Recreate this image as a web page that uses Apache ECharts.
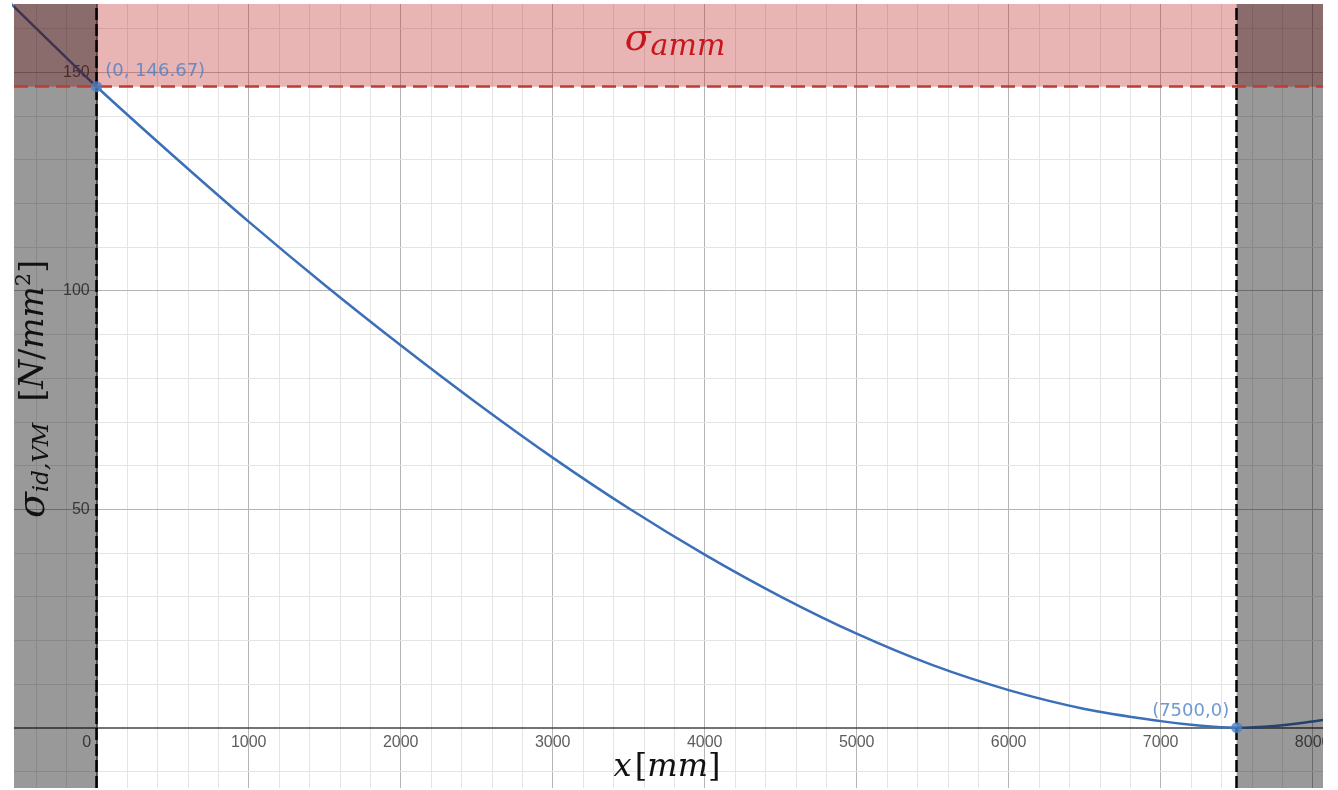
<!DOCTYPE html>
<html>
<head>
<meta charset="utf-8">
<title>sigma id VM</title>
<script src="https://cdn.jsdelivr.net/npm/echarts@6/dist/echarts.min.js"></script>
<style>
  html, body { margin: 0; padding: 0; background: #fff; }
  #chart { width: 1338px; height: 790px; }
</style>
</head>
<body>
<div id="chart"></div>
<script>
// 曲线数据 (x [mm], sigma [N/mm^2])
var xs = [-600, -300, 0, 500, 1000, 1500, 2000, 2500, 3000, 3500, 4000, 4500, 5000, 5500, 6000, 6500, 7000, 7250, 7500, 7750, 8000, 8100];
var sigma = [166.9, 156.7, 146.67, 131.0, 115.8, 101.3, 87.5, 74.3, 61.8, 50.2, 39.6, 30.0, 21.5, 14.3, 8.6, 4.3, 1.5, 0.5, 0, 0.4, 1.4, 1.9];

// 标注点
var pointsX = [0, 7500];
var pointsY = [146.67, 0];
var pointLabels = ['(0, 146.67)', '(7500,0)'];

// 许用应力, 有效区间
var sigmaAmm = 146.67;
var beamStart = 0;
var beamEnd = 7500;

// 刻度
var xTickLabels = [0, 1000, 2000, 3000, 4000, 5000, 6000, 7000, 8000];
var yTickLabels = [50, 100, 150];

// 视窗范围
var xMin = -544, xMax = 8068;
var yMin = -13.8, yMax = 165.6;

var myChart = echarts.init(document.getElementById('chart'));

var curve = xs.map(function (x, i) { return [x, sigma[i]]; });
var pts = pointsX.map(function (x, i) { return [x, pointsY[i]]; });
var xTicks = xTickLabels.map(function (v) { return [v, 0]; });
var yTicks = yTickLabels.map(function (v) { return [0, v]; });

// 网格线 (次网格 200 / 10, 主网格 1000 / 50)
var gridLines = [];
for (var gx = -400; gx <= 8000; gx += 200) {
    if (gx === 0) continue;
    gridLines.push({ xAxis: gx, lineStyle: { color: gx % 1000 === 0 ? '#b4b4b4' : '#e4e4e4', width: 1, type: 'solid' } });
}
for (var gy = -10; gy <= 160; gy += 10) {
    if (gy === 0) continue;
    gridLines.push({ yAxis: gy, lineStyle: { color: gy % 50 === 0 ? '#b4b4b4' : '#e4e4e4', width: 1, type: 'solid' } });
}
// 坐标轴
gridLines.push({ yAxis: 0, lineStyle: { color: '#444', width: 1.5, type: 'solid' } });
gridLines.push({ xAxis: 0, lineStyle: { color: '#333', width: 1.5, type: 'solid' } });

var serifFont = 'DejaVu Serif';
var tickFont = { color: '#333', fontSize: 16, fontFamily: 'Liberation Sans' };

var option = {
    animation: false,
    backgroundColor: '#fff',
    grid: { left: 14, top: 4, width: 1309, height: 784, containLabel: false, outerBoundsMode: 'none' },
    xAxis: {
        type: 'value',
        min: xMin,
        max: xMax,
        axisLine: { show: false },
        axisTick: { show: false },
        splitLine: { show: false },
        axisLabel: { show: false }
    },
    yAxis: {
        type: 'value',
        min: yMin,
        max: yMax,
        axisLine: { show: false },
        axisTick: { show: false },
        splitLine: { show: false },
        axisLabel: { show: false }
    },
    series: [
        {
            // 网格
            type: 'line',
            data: [[xMin, yMin]],
            symbol: 'none',
            lineStyle: { opacity: 0 },
            silent: true,
            z: 1,
            markLine: { z: 1, silent: true, symbol: ['none', 'none'], label: { show: false }, data: gridLines }
        },
        {
            // x 刻度标签
            type: 'scatter',
            data: xTicks,
            symbolSize: 0,
            silent: true,
            z: 3,
            label: {
                show: true,
                position: 'bottom',
                distance: 7,
                color: tickFont.color,
                fontSize: tickFont.fontSize,
                fontFamily: tickFont.fontFamily,
                formatter: function (p) { return String(p.value[0]); }
            },
            labelLayout: function (params) {
                if (params.dataIndex === 0) {
                    return { dx: -10 };
                }
                return {};
            }
        },
        {
            // y 刻度标签
            type: 'scatter',
            data: yTicks,
            symbolSize: 0,
            silent: true,
            z: 3,
            label: {
                show: true,
                position: 'left',
                distance: 7,
                color: tickFont.color,
                fontSize: tickFont.fontSize,
                fontFamily: tickFont.fontFamily,
                formatter: function (p) { return String(p.value[1]); }
            }
        },
        {
            name: 'sigma',
            type: 'line',
            data: curve,
            smooth: 0.3,
            showSymbol: false,
            lineStyle: { color: '#3b6fb8', width: 2.5 },
            z: 4
        },
        {
            // 许用应力区域
            type: 'line',
            data: [],
            silent: true,
            z: 5,
            markArea: {
                z: 5,
                silent: true,
                itemStyle: { color: 'rgba(190, 40, 40, 0.35)' },
                data: [[{ yAxis: sigmaAmm }, { yAxis: yMax }]]
            }
        },
        {
            // 梁外区域
            type: 'line',
            data: [],
            silent: true,
            z: 6,
            markArea: {
                z: 6,
                silent: true,
                itemStyle: { color: 'rgba(0, 0, 0, 0.4)' },
                data: [
                    [{ xAxis: xMin }, { xAxis: beamStart }],
                    [{ xAxis: beamEnd }, { xAxis: xMax }]
                ]
            }
        },
        {
            // 虚线
            type: 'line',
            data: [],
            silent: true,
            z: 7,
            markLine: {
                z: 7,
                silent: true,
                symbol: ['none', 'none'],
                label: { show: false },
                data: [
                    { yAxis: sigmaAmm, lineStyle: { color: '#bf3b36', width: 2.5, type: [14, 7] } },
                    { xAxis: beamStart, lineStyle: { color: '#000', width: 2.5, type: [12, 4] } },
                    { xAxis: beamEnd, lineStyle: { color: '#000', width: 2.5, type: [12, 4] } }
                ]
            }
        },
        {
            type: 'scatter',
            data: pts,
            symbolSize: 11,
            itemStyle: { color: '#4a7fc6' },
            z: 8,
            label: {
                show: true,
                color: '#4a7fc6',
                fontSize: 18,
                fontFamily: 'DejaVu Sans',
                formatter: function (p) { return pointLabels[p.dataIndex]; },
                position: 'right'
            },
            labelLayout: function (params) {
                if (params.dataIndex === 0) {
                    return { x: params.rect.x + 14, y: params.rect.y - 1, align: 'left', verticalAlign: 'bottom' };
                }
                return { x: params.rect.x - 2, y: params.rect.y - 2, align: 'right', verticalAlign: 'bottom' };
            }
        }
    ],
    graphic: [
        {
            // 右侧裁切
            type: 'rect',
            shape: { x: 1323, y: 0, width: 20, height: 790 },
            style: { fill: '#fff' },
            z: 100
        },
        {
            type: 'text',
            x: 675,
            y: 40,
            z: 101,
            style: {
                text: '{s|σ}{sub|amm}',
                align: 'center',
                verticalAlign: 'middle',
                rich: {
                    s: { fontSize: 38, fontStyle: 'italic', fontFamily: serifFont, fill: '#c8161d' },
                    sub: { fontSize: 30, fontStyle: 'italic', fontFamily: serifFont, fill: '#c8161d', verticalAlign: 'bottom', padding: [14, 0, 0, 0] }
                }
            }
        },
        {
            type: 'text',
            x: 667,
            y: 768,
            z: 101,
            style: {
                text: '{i|x} {b|[}{i|mm}{b|]}',
                align: 'center',
                verticalAlign: 'middle',
                rich: {
                    i: { fontSize: 32, fontStyle: 'italic', fontFamily: serifFont, fill: '#111' },
                    b: { fontSize: 32, fontFamily: serifFont, fill: '#111' }
                }
            }
        },
        {
            type: 'text',
            x: 34,
            y: 389,
            rotation: Math.PI / 2,
            z: 101,
            style: {
                text: '{s|σ}{sub|id,VM}{b|  [}{i|N}{b|/}{i|mm}{sup|2}{b|]}',
                align: 'center',
                verticalAlign: 'middle',
                rich: {
                    s: { fontSize: 38, fontStyle: 'italic', fontFamily: serifFont, fill: '#111' },
                    sub: { fontSize: 23, fontStyle: 'italic', fontFamily: serifFont, fill: '#111', verticalAlign: 'bottom', padding: [16, 0, 0, 0] },
                    i: { fontSize: 33, fontStyle: 'italic', fontFamily: serifFont, fill: '#111' },
                    b: { fontSize: 33, fontFamily: serifFont, fill: '#111' },
                    sup: { fontSize: 21, fontFamily: serifFont, fill: '#111', verticalAlign: 'top', padding: [0, 0, 14, 0] }
                }
            }
        }
    ]
};

myChart.setOption(option);
</script>
</body>
</html>
